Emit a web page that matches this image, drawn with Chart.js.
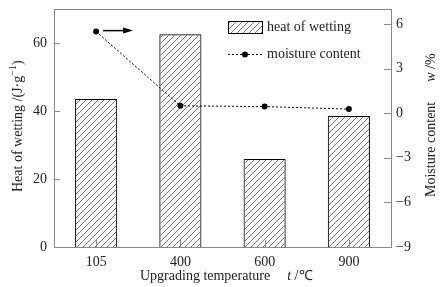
<!DOCTYPE html>
<html>
<head>
<meta charset="utf-8">
<script src="https://cdn.jsdelivr.net/npm/chart.js@4"></script>
<style>
  body { margin: 0; background: #fff; }
  canvas { display: block; }
</style>
</head>
<body>
<canvas id="heatChart" width="442" height="287"></canvas>
<script>
const categories = ['105', '400', '600', '900'];
const heatOfWetting = [43.5, 62.6, 25.9, 38.5];
const moistureContent = [5.48, 0.49, 0.44, 0.27];
const heatTicks = [0, 20, 40, 60];
const moistureTicks = [-9, -6, -3, 0, 3, 6];

const FONT = '"Liberation Serif", "Times New Roman", serif';
const AXIS = '#888';

function makeHatch(ctx, size) {
    const c = document.createElement('canvas');
    c.width = c.height = size;
    const g = c.getContext('2d');
    g.strokeStyle = '#555';
    g.lineWidth = 0.8;
    g.beginPath();
    g.moveTo(0, size); g.lineTo(size, 0);
    g.moveTo(-1, 1); g.lineTo(1, -1);
    g.moveTo(size - 1, size + 1); g.lineTo(size + 1, size - 1);
    g.stroke();
    return ctx.createPattern(c, 'repeat');
}

function noPad(s) {
    s.paddingTop = 0;
    s.paddingBottom = 0;
    s.paddingLeft = 0;
    s.paddingRight = 0;
}

document.addEventListener('DOMContentLoaded', function () {
    const canvas = document.getElementById('heatChart');
    const ctx = canvas.getContext('2d');
    const hatch = makeHatch(ctx, 6);

    const decorations = {
        id: 'decorations',
        afterDraw(chart) {
            const c = chart.ctx;
            const a = chart.chartArea;
            const { x, y, y1 } = chart.scales;
            c.save();
            c.strokeStyle = AXIS;
            c.lineWidth = 1;
            const line = (x0, y0, x2, y2) => { c.beginPath(); c.moveTo(x0, y0); c.lineTo(x2, y2); c.stroke(); };
            // top frame
            line(a.left, Math.round(a.top) + 0.5, a.right, Math.round(a.top) + 0.5);
            // inward ticks
            y.ticks.forEach((t, i) => { const p = Math.round(y.getPixelForTick(i)) + 0.5; line(a.left, p, a.left + 6, p); });
            y1.ticks.forEach((t, i) => { const p = Math.round(y1.getPixelForTick(i)) + 0.5; line(a.right - 7, p, a.right, p); });
            x.ticks.forEach((t, i) => { const p = Math.round(x.getPixelForTick(i)) + 0.5; line(p, a.bottom, p, a.bottom - 7); });

            // arrow pointing to right axis
            const p0 = chart.getDatasetMeta(1).data[0];
            c.strokeStyle = '#000';
            c.fillStyle = '#000';
            c.lineWidth = 1.5;
            line(p0.x + 7, p0.y - 1, p0.x + 28, p0.y - 1);
            c.beginPath();
            c.moveTo(p0.x + 37, p0.y - 1);
            c.lineTo(p0.x + 27, p0.y - 4);
            c.lineTo(p0.x + 27, p0.y + 2);
            c.closePath();
            c.fill();

            // legend
            c.lineWidth = 1;
            c.fillStyle = hatch;
            c.fillRect(228, 21, 34, 12);
            c.strokeStyle = '#000';
            c.strokeRect(228.5, 21.5, 34, 12);
            c.setLineDash([2, 2]);
            line(228, 54.5, 262, 54.5);
            c.setLineDash([]);
            c.fillStyle = '#000';
            c.beginPath(); c.arc(245, 54.5, 3, 0, Math.PI * 2); c.fill();
            c.fillStyle = '#222';
            c.font = '14px ' + FONT;
            c.textBaseline = 'middle';
            c.textAlign = 'left';
            c.fillText('heat of wetting', 267, 27);
            c.fillText('moisture content', 267, 54);

            // x title
            c.textBaseline = 'alphabetic';
            let px = 140;
            c.font = '14px ' + FONT;
            c.fillText('Upgrading temperature', px, 280);
            px += c.measureText('Upgrading temperature').width + 17;
            c.font = 'italic 14px ' + FONT;
            c.fillText('t', px, 280);
            px += c.measureText('t').width;
            c.font = '14px ' + FONT;
            c.fillText(' /\u2103', px, 280);

            // left title
            c.save();
            c.translate(22, 192);
            c.rotate(-Math.PI / 2);
            let tx = 0;
            c.font = '14px ' + FONT;
            c.fillText('Heat of wetting /(J\u00b7g', tx, 0);
            tx += c.measureText('Heat of wetting /(J\u00b7g').width;
            c.font = '10px ' + FONT;
            c.fillText('\u22121', tx, -6);
            tx += c.measureText('\u22121').width;
            c.font = '14px ' + FONT;
            c.fillText(')', tx, 0);
            c.restore();

            // right title
            c.save();
            c.translate(435, 197);
            c.rotate(-Math.PI / 2);
            tx = 0;
            c.font = '14px ' + FONT;
            c.fillText('Moisture content', tx, 0);
            tx += c.measureText('Moisture content').width + 20;
            c.font = 'italic 14px ' + FONT;
            c.fillText('w', tx, 0);
            tx += c.measureText('w').width;
            c.font = '14px ' + FONT;
            c.fillText(' /%', tx, 0);
            c.restore();

            c.restore();
        }
    };

    new Chart(ctx, {
        data: {
            labels: categories,
            datasets: [
                {
                    type: 'bar', label: 'heat of wetting', data: heatOfWetting, yAxisID: 'y',
                    backgroundColor: hatch, borderColor: '#000', borderWidth: 1,
                    barPercentage: 0.5, categoryPercentage: 1, order: 1
                },
                {
                    type: 'line', label: 'moisture content', data: moistureContent, yAxisID: 'y1',
                    borderColor: '#000', borderWidth: 1, borderDash: [2, 2],
                    pointRadius: 3, pointBackgroundColor: '#000', pointBorderWidth: 0,
                    fill: false, tension: 0, order: 0
                }
            ]
        },
        options: {
            responsive: false,
            animation: false,
            layout: { padding: { top: 9, left: 0, right: 0, bottom: 0 } },
            plugins: { legend: { display: false }, tooltip: { enabled: false } },
            scales: {
                x: {
                    offset: true,
                    grid: { display: false, drawTicks: false },
                    border: { display: true, color: AXIS },
                    ticks: { color: '#222', font: { family: FONT, size: 14 }, padding: 7 },
                    afterFit: s => { s.height = 40; noPad(s); }
                },
                y: {
                    position: 'left', min: 0, max: 70,
                    afterBuildTicks: s => { s.ticks = heatTicks.map(v => ({ value: v })); },
                    grid: { display: false, drawTicks: false },
                    border: { display: true, color: AXIS },
                    ticks: { color: '#222', font: { family: FONT, size: 14 }, padding: 7 },
                    afterFit: s => { s.width = 54; noPad(s); }
                },
                y1: {
                    position: 'right', min: -9, max: 7,
                    afterBuildTicks: s => { s.ticks = moistureTicks.map(v => ({ value: v })); },
                    grid: { display: false, drawTicks: false },
                    border: { display: true, color: AXIS },
                    ticks: {
                        color: '#222', font: { family: FONT, size: 14 }, padding: 5,
                        callback: v => String(v).replace('-', '\u2212')
                    },
                    afterFit: s => { s.width = 51; noPad(s); }
                }
            }
        },
        plugins: [decorations]
    });
});
</script>
</body>
</html>
